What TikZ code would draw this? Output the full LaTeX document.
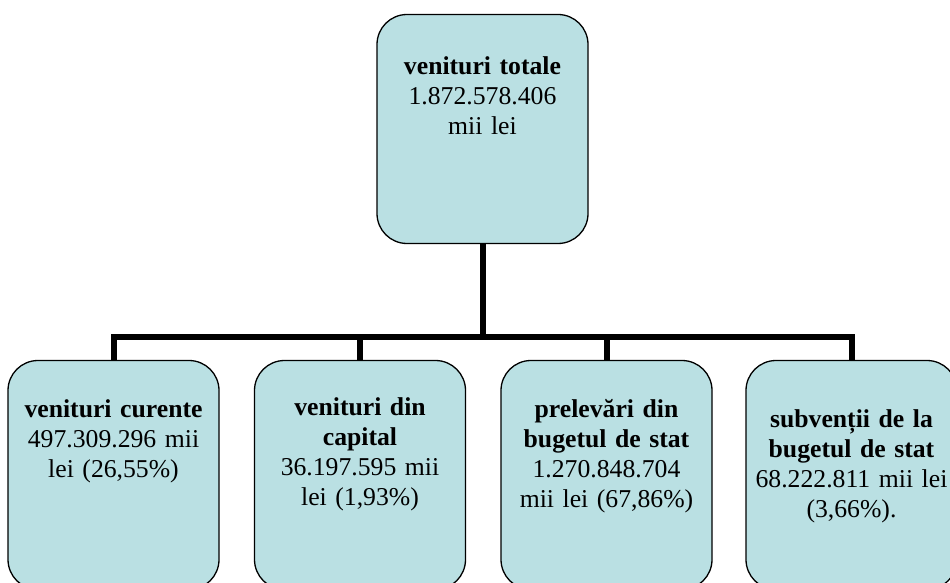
\documentclass[tikz,border=0pt]{standalone}
\usepackage{fontspec}
\setmainfont{Liberation Serif}
\definecolor{boxfill}{RGB}{186,224,227}
\tikzset{
  revbox/.style={draw=black, line width=1.3pt, fill=boxfill, rounded corners=30pt,
    minimum width=211pt, minimum height=229pt, inner sep=0pt},
  revtext/.style={anchor=base, align=center, text width=205pt, inner sep=0pt,
    font=\fontsize{25.7pt}{30pt}\selectfont},
  bus/.style={line width=6pt, line join=miter}
}
\begin{document}
\begin{tikzpicture}[x=1pt,y=-1pt]
  \useasboundingbox (0,0) rectangle (950,583);
  \clip (0,0) rectangle (950,583);

  % boxes
  \node[revbox] (top) at (482.5,129) {};
  \node[revbox] (b1) at (113.5,475) {};
  \node[revbox] (b2) at (360,475) {};
  \node[revbox] (b3) at (606.5,475) {};
  \node[revbox] (b4) at (851.5,475) {};

  % texts
  \node[revtext] (t0) at (482.5,75) {\textbf{venituri totale}\\1.872.578.406\\mii lei};
  \node[revtext] (t1) at (113.5,417) {\textbf{venituri curente}\\497.309.296 mii\\lei (26,55\%)};
  \node[revtext] (t2) at (360,415) {\textbf{venituri din}\\\textbf{capital}\\36.197.595 mii\\lei (1,93\%)};
  \node[revtext] (t3) at (606.5,417) {\textbf{prelevări din}\\\textbf{bugetul de stat}\\1.270.848.704\\mii lei (67,86\%)};
  \node[revtext] (t4) at (851.5,427) {\textbf{subvenții de la}\\\textbf{bugetul de stat}\\68.222.811 mii lei\\(3,66\%).};

  % connectors
  \coordinate (busline) at (0,337);
  \draw[bus] (top.south) -- ([yshift=3pt]top.south |- busline);
  \draw[bus] (b1.north) -- (b1.north |- busline) -- (b4.north |- busline) -- (b4.north);
  \draw[bus] (b2.north) -- (b2.north |- busline);
  \draw[bus] (b3.north) -- (b3.north |- busline);
\end{tikzpicture}
\end{document}
